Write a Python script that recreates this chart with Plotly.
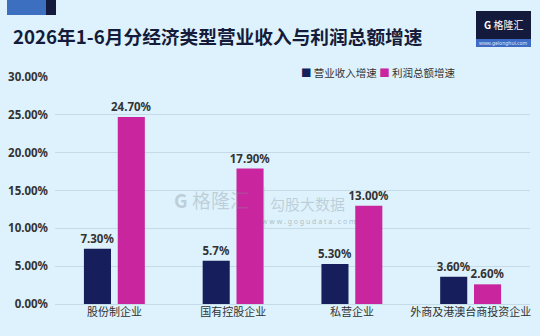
import plotly.graph_objects as go

title = "2026年1-6月分经济类型营业收入与利润总额增速"
categories = ["股份制企业", "国有控股企业", "私营企业", "外商及港澳台商投资企业"]
revenue_growth = [7.30, 5.7, 5.30, 3.60]
revenue_text = ["7.30%", "5.7%", "5.30%", "3.60%"]
profit_growth = [24.70, 17.90, 13.00, 2.60]
profit_text = ["24.70%", "17.90%", "13.00%", "2.60%"]
series_names = ["营业收入增速", "利润总额增速"]
y_ticks = [0, 5, 10, 15, 20, 25, 30]
y_tick_labels = ["0.00%", "5.00%", "10.00%", "15.00%", "20.00%", "25.00%", "30.00%"]

NAVY = "#161f5c"
PINK = "#c8259f"
BG = "#ddf2fc"
TXT = "#333333"
NUMFONT = "Noto Sans, DejaVu Sans, sans-serif"
CJK = "Noto Sans CJK SC, sans-serif"

fig = go.Figure()
for vals, txt, nm, col in [(revenue_growth, revenue_text, series_names[0], NAVY),
                           (profit_growth, profit_text, series_names[1], PINK)]:
    fig.add_trace(go.Bar(
        x=categories, y=vals, name=nm,
        marker=dict(color=col, line=dict(width=0)), text=txt, textposition="outside",
        cliponaxis=False, constraintext="none", showlegend=False,
        textfont=dict(family=NUMFONT, size=11.5, color=TXT, weight="bold"),
    ))

legend_text = (
    f"<span style='color:{NAVY}'>■</span> {series_names[0]} "
    f"<span style='color:{PINK}'>■</span> {series_names[1]}"
)

fig.update_layout(
    width=540, height=336,
    margin=dict(l=0, r=0, t=0, b=0),
    paper_bgcolor=BG, plot_bgcolor=BG,
    barmode="group", bargap=0.43, bargroupgap=0.2,
    font=dict(family=CJK, color=TXT),
    showlegend=False,
    xaxis=dict(
        domain=[55 / 540, 530 / 540], automargin=False,
        showgrid=False, showline=False, zeroline=False,
        tickfont=dict(family=CJK, size=11, color=TXT),
        ticks="",
    ),
    yaxis=dict(
        domain=[1 - 304 / 336, 1 - 77 / 336], automargin=False,
        range=[0, 30],
        tickvals=y_ticks, ticktext=y_tick_labels,
        tickfont=dict(family=NUMFONT, size=11.5, color=TXT, weight="bold"),
        showgrid=True, gridcolor="#c5dbe6", gridwidth=1,
        zeroline=True, zerolinecolor="#c5dbe6", zerolinewidth=1,
        showline=False, ticks="", ticklabelstandoff=6,
    ),
    title=dict(
        text=title, x=13 / 540, xanchor="left", y=1 - 37 / 336, yanchor="middle",
        font=dict(family=CJK, size=18.7, color="#151b3a", weight="bold"),
    ),
    shapes=[
        dict(type="rect", xref="paper", yref="paper",
             x0=7 / 540, x1=46 / 540, y0=1 - 15 / 336, y1=1,
             fillcolor="#3c6fc0", line=dict(width=0)),
        dict(type="rect", xref="paper", yref="paper",
             x0=46 / 540, x1=56 / 540, y0=1 - 15 / 336, y1=1,
             fillcolor="#141a3c", line=dict(width=0)),
        dict(type="rect", xref="paper", yref="paper",
             x0=476 / 540, x1=531 / 540, y0=1 - 39 / 336, y1=1 - 11 / 336,
             fillcolor="#141a3c", line=dict(width=0)),
        dict(type="rect", xref="paper", yref="paper",
             x0=476 / 540, x1=531 / 540, y0=1 - 47 / 336, y1=1 - 39 / 336,
             fillcolor="#3e6cc4", line=dict(width=0)),
        dict(type="line", xref="paper", yref="paper",
             x0=264 / 540, x1=264 / 540, y0=1 - 187 / 336, y1=1 - 228 / 336,
             line=dict(color="rgba(150,160,170,0.35)", width=1)),
    ],
    annotations=[
        dict(text=legend_text, xref="paper", yref="paper", x=299 / 540, y=1 - 72 / 336,
             xanchor="left", yanchor="middle", showarrow=False,
             font=dict(family=CJK, size=10.5, color=TXT)),
        dict(text="<b>G</b> 格隆汇", xref="paper", yref="paper", x=503 / 540, y=1 - 25 / 336,
             xanchor="center", yanchor="middle",
             showarrow=False, font=dict(family=CJK, size=10, color="white")),
        dict(text="www.gelonghui.com", xref="paper", yref="paper", x=503 / 540, y=1 - 43 / 336,
             xanchor="center", yanchor="middle",
             showarrow=False, font=dict(family=NUMFONT, size=5, color="#dfe8f5")),
        dict(text="<b>G</b> 格隆汇", xref="paper", yref="paper", x=211 / 540, y=1 - 199 / 336,
             xanchor="center", yanchor="middle",
             showarrow=False, font=dict(family=CJK, size=19, color="rgba(130,140,150,0.35)")),
        dict(text="勾股大数据", xref="paper", yref="paper", x=307 / 540, y=1 - 203 / 336,
             xanchor="center", yanchor="middle",
             showarrow=False, font=dict(family=CJK, size=15, color="rgba(130,140,150,0.35)")),
        dict(text="w w w . g o g u d a t a . c o m", xref="paper", yref="paper", x=309 / 540, y=1 - 221 / 336,
             xanchor="center", yanchor="middle",
             showarrow=False, font=dict(family=NUMFONT, size=7, color="rgba(110,120,130,0.45)")),
    ],
)

fig.write_html("out.html")
